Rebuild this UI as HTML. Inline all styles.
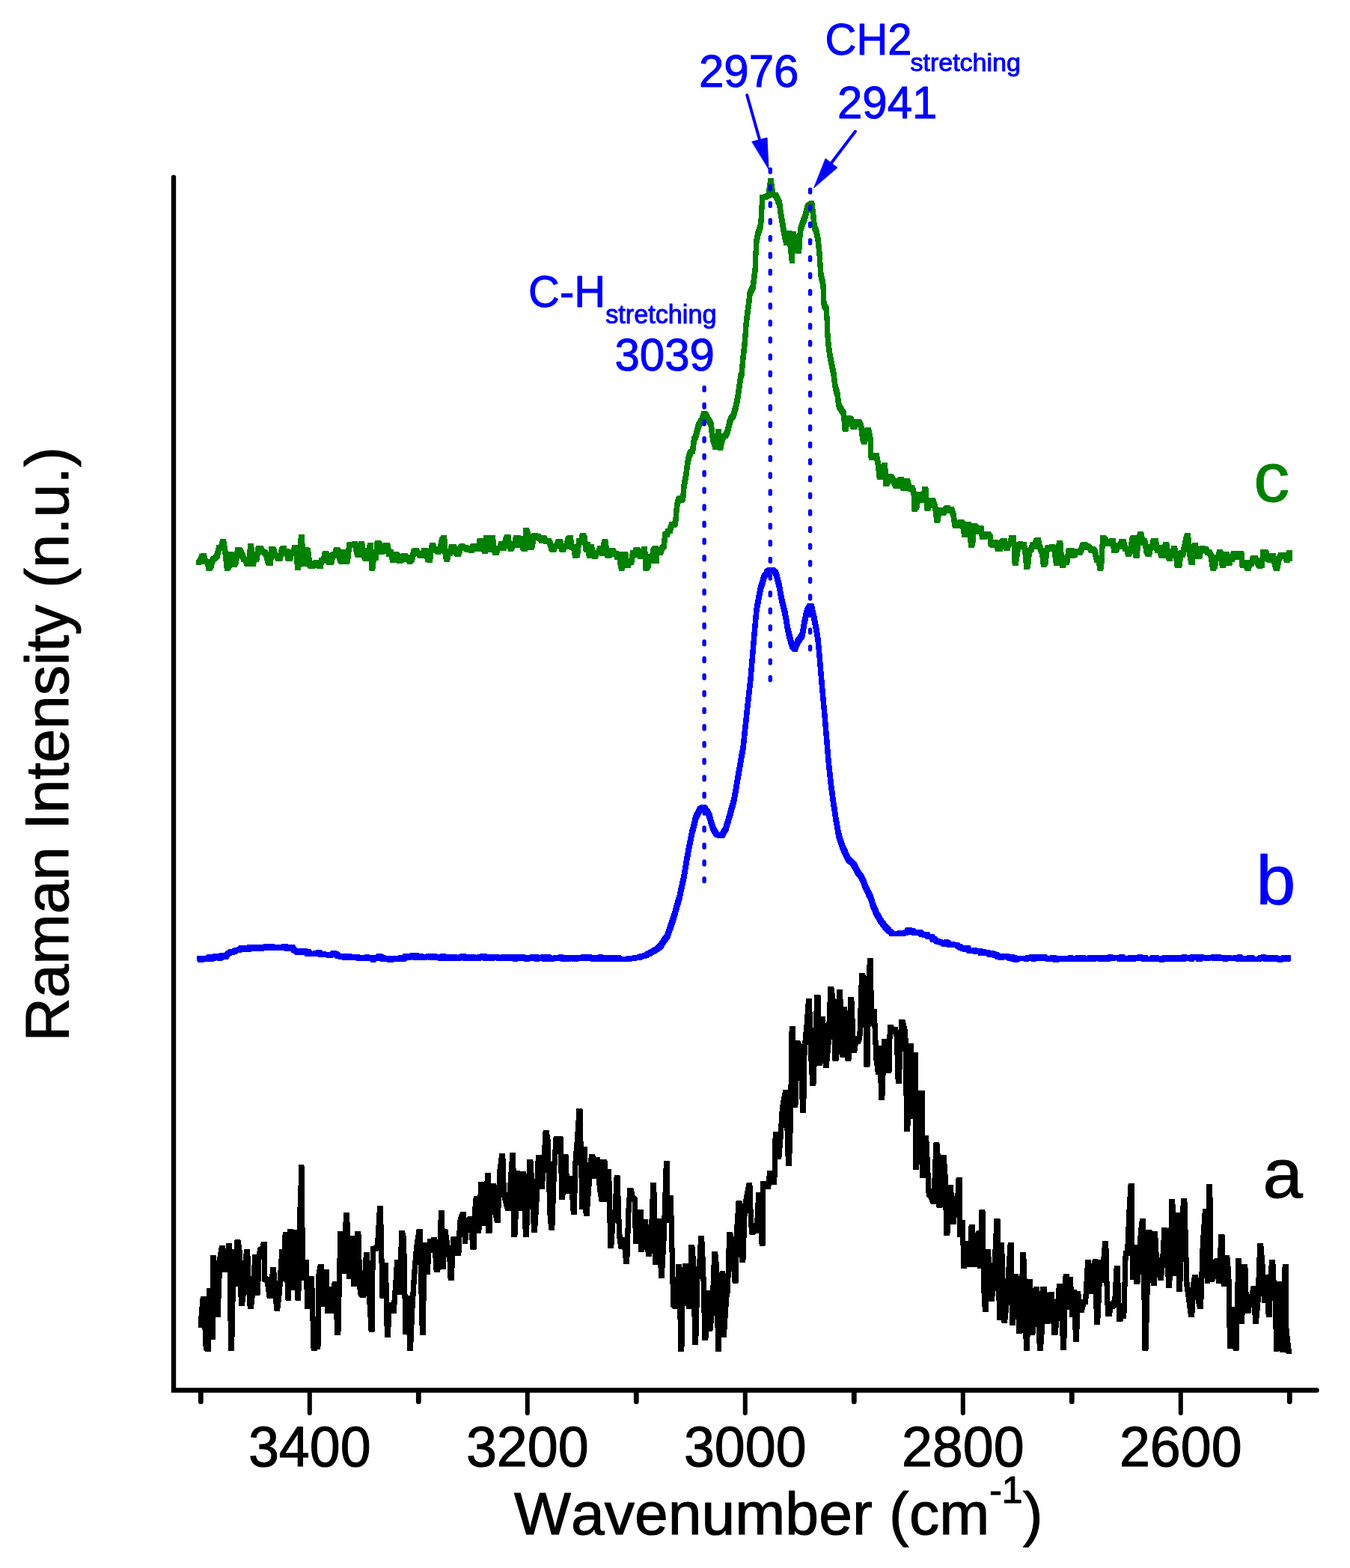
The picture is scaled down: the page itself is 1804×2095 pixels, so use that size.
<!DOCTYPE html>
<html lang="en"><head><meta charset="utf-8"><title>Raman spectra</title>
<style>html,body{margin:0;padding:0;background:#fff}svg{display:block}</style></head>
<body>
<svg width="1804" height="2095" viewBox="0 0 1804 2095">
<rect width="1804" height="2095" fill="#fff"/>
<g stroke="#000" fill="none" stroke-linecap="round" stroke-linejoin="miter">
<path d="M232,237 V1857.5 H1759.6" stroke-width="6.4"/>
<path d="M413.8,1860 V1888" stroke-width="6"/>
<path d="M704.8,1860 V1888" stroke-width="6"/>
<path d="M995.8,1860 V1888" stroke-width="6"/>
<path d="M1286.8,1860 V1888" stroke-width="6"/>
<path d="M1577.8,1860 V1888" stroke-width="6"/>
<path d="M268.3,1860 V1872.7" stroke-width="6.8"/>
<path d="M559.3,1860 V1872.7" stroke-width="6.8"/>
<path d="M850.3,1860 V1872.7" stroke-width="6.8"/>
<path d="M1141.3,1860 V1872.7" stroke-width="6.8"/>
<path d="M1432.3,1860 V1872.7" stroke-width="6.8"/>
<path d="M1723.3,1860 V1872.7" stroke-width="6.8"/>
</g>
<filter id="pen" filterUnits="userSpaceOnUse" x="0" y="0" width="1804" height="2095"><feMorphology operator="dilate" radius="3"/></filter>
<g fill="none" stroke-width="1" stroke-linejoin="round" stroke-linecap="round" shape-rendering="crispEdges" filter="url(#pen)">
<path d="M268.2,1770.4 L271.2,1735.4 L272.2,1735.4 L275.2,1799.8 L277.5,1802.6 L278.5,1802.6 L279.8,1724.1 L283.1,1786.5 L284.1,1786.5 L284.8,1680.7 L285.8,1680.7 L288.0,1750.4 L290.1,1756.4 L291.1,1756.4 L293.8,1683.7 L296.4,1667.4 L297.4,1667.4 L300.7,1696.1 L303.4,1689.0 L305.6,1664.6 L306.6,1664.6 L308.6,1801.9 L309.6,1801.9 L312.4,1672.3 L315.2,1715.7 L317.0,1659.7 L318.0,1659.7 L320.2,1674.4 L322.4,1741.7 L323.4,1741.7 L325.3,1726.4 L327.7,1689.8 L329.7,1672.6 L330.7,1672.6 L332.4,1718.5 L334.3,1745.9 L335.3,1745.9 L338.1,1721.4 L340.9,1679.6 L341.9,1679.6 L343.4,1727.0 L344.4,1727.0 L346.0,1680.0 L348.1,1669.5 L350.5,1669.9 L352.5,1662.3 L353.5,1662.3 L354.0,1708.7 L357.3,1710.4 L360.2,1731.2 L361.2,1731.2 L362.8,1730.4 L364.4,1696.8 L365.4,1696.8 L367.6,1720.1 L369.7,1748.0 L370.7,1748.0 L373.5,1723.8 L376.8,1672.3 L378.2,1708.7 L381.2,1649.9 L382.2,1649.9 L384.7,1734.0 L385.7,1734.0 L387.5,1645.7 L388.5,1645.7 L391.5,1720.6 L393.8,1646.4 L394.8,1646.4 L396.4,1662.5 L397.8,1734.0 L398.8,1734.0 L400.6,1628.0 L403.0,1558.8 L404.8,1707.3 L407.0,1701.1 L409.1,1686.3 L410.7,1745.9 L411.7,1745.9 L413.6,1719.5 L415.6,1708.7 L416.6,1708.7 L419.1,1801.9 L420.1,1801.9 L422.4,1780.2 L424.0,1799.1 L425.0,1799.1 L425.4,1708.7 L428.2,1692.6 L429.2,1692.6 L430.8,1742.4 L433.2,1722.9 L435.2,1699.6 L436.2,1699.6 L437.3,1751.5 L438.3,1751.5 L439.9,1722.7 L442.9,1751.5 L443.9,1751.5 L445.5,1735.9 L447.1,1715.7 L448.1,1715.7 L450.9,1780.9 L451.9,1780.9 L454.8,1648.5 L455.8,1648.5 L457.4,1681.2 L459.5,1698.9 L462.5,1623.5 L463.5,1623.5 L466.9,1705.9 L470.2,1654.8 L471.2,1654.8 L473.0,1715.7 L474.0,1715.7 L476.0,1664.4 L477.9,1648.5 L478.9,1648.5 L481.2,1725.5 L483.3,1729.7 L484.9,1730.5 L485.9,1730.5 L487.7,1705.4 L489.4,1676.5 L490.4,1676.5 L493.1,1724.1 L496.1,1776.0 L497.1,1776.0 L498.3,1668.1 L501.0,1668.7 L504.5,1666.4 L507.5,1614.5 L508.5,1614.5 L511.0,1731.1 L512.0,1731.1 L514.5,1690.5 L515.5,1690.5 L517.3,1783.6 L518.3,1783.6 L519.9,1752.0 L522.0,1743.0 L524.1,1750.1 L526.2,1751.4 L528.7,1718.0 L530.6,1686.9 L531.6,1686.9 L534.2,1726.9 L535.2,1726.9 L536.3,1647.7 L537.3,1647.7 L539.6,1656.1 L541.9,1779.4 L545.9,1734.6 L547.5,1801.9 L548.5,1801.9 L550.8,1748.2 L553.6,1703.8 L556.4,1670.1 L558.5,1656.1 L560.1,1645.6 L561.1,1645.6 L562.7,1712.8 L564.3,1780.8 L565.3,1780.8 L567.1,1663.8 L568.1,1663.8 L571.1,1699.6 L573.2,1667.6 L574.8,1658.9 L575.8,1658.9 L577.4,1670.1 L579.7,1656.8 L580.7,1656.8 L583.2,1696.8 L584.2,1696.8 L586.9,1687.7 L589.5,1620.7 L590.5,1620.7 L592.1,1692.6 L594.9,1644.9 L598.4,1670.1 L600.5,1671.1 L602.1,1707.3 L603.1,1707.3 L606.0,1655.7 L607.0,1655.7 L609.5,1667.8 L611.9,1674.3 L612.9,1674.3 L614.5,1634.4 L616.8,1627.0 L618.5,1622.8 L619.5,1622.8 L621.5,1658.9 L624.3,1630.9 L626.4,1633.0 L628.0,1628.8 L629.0,1628.8 L632.0,1666.4 L633.0,1666.4 L634.6,1620.2 L636.2,1601.7 L637.2,1601.7 L639.8,1644.9 L642.8,1582.8 L643.8,1582.8 L646.1,1635.1 L649.1,1613.9 L651.6,1570.6 L652.6,1570.6 L653.0,1644.9 L654.0,1644.9 L656.4,1585.4 L658.9,1584.6 L659.9,1584.6 L662.0,1618.1 L664.2,1630.2 L665.2,1630.2 L668.0,1565.2 L670.8,1544.7 L671.8,1544.7 L673.4,1594.5 L676.2,1605.8 L678.5,1614.1 L679.5,1614.1 L682.1,1582.2 L684.8,1543.6 L685.8,1543.6 L686.9,1649.8 L687.9,1649.8 L689.5,1615.3 L691.1,1567.8 L692.1,1567.8 L694.6,1614.1 L695.6,1614.1 L698.1,1568.5 L699.1,1568.5 L700.7,1591.9 L702.3,1649.8 L703.3,1649.8 L705.6,1599.9 L707.9,1552.7 L708.9,1552.7 L711.2,1588.5 L713.5,1643.1 L714.5,1643.1 L716.9,1606.1 L719.3,1546.2 L720.3,1546.2 L721.9,1557.5 L724.0,1586.1 L726.8,1555.0 L729.1,1513.7 L730.1,1513.7 L732.2,1526.4 L734.8,1618.3 L736.8,1640.1 L737.8,1640.1 L740.5,1562.5 L743.1,1521.7 L744.1,1521.7 L746.1,1525.1 L748.0,1521.7 L749.0,1521.7 L750.8,1599.4 L751.8,1599.4 L753.4,1560.8 L755.0,1545.9 L756.0,1545.9 L757.8,1591.0 L758.8,1591.0 L760.8,1585.5 L763.3,1574.9 L766.3,1619.1 L767.3,1619.1 L768.9,1555.3 L771.7,1520.5 L774.0,1484.5 L775.0,1484.5 L778.0,1612.7 L781.5,1535.7 L783.1,1621.9 L784.1,1621.9 L786.1,1594.2 L788.7,1558.3 L790.8,1545.5 L791.8,1545.5 L794.8,1572.1 L797.8,1549.0 L798.8,1549.0 L801.4,1586.4 L804.1,1602.9 L805.1,1602.9 L806.9,1552.5 L807.9,1552.5 L810.9,1602.9 L813.7,1565.1 L815.7,1664.6 L816.7,1664.6 L819.2,1627.8 L822.1,1618.4 L824.1,1573.9 L825.1,1573.9 L827.6,1649.3 L830.0,1665.3 L831.0,1665.3 L834.0,1656.2 L836.7,1685.6 L837.7,1685.6 L839.8,1620.0 L841.9,1590.7 L842.9,1590.7 L845.2,1600.5 L848.0,1602.9 L849.6,1658.3 L850.6,1658.3 L852.9,1629.2 L855.2,1619.8 L856.2,1619.8 L856.6,1669.5 L857.6,1669.5 L859.6,1656.9 L862.0,1631.7 L864.5,1650.7 L866.5,1675.8 L867.5,1675.8 L870.1,1656.7 L872.8,1583.7 L873.8,1583.7 L875.6,1686.3 L876.6,1686.3 L878.9,1653.5 L881.7,1631.7 L883.3,1704.5 L884.3,1704.5 L887.3,1649.5 L890.3,1554.6 L891.3,1554.6 L892.3,1631.0 L894.4,1607.0 L896.4,1600.6 L899.7,1742.6 L903.0,1745.8 L905.0,1735.6 L906.6,1692.7 L907.6,1692.7 L909.9,1802.2 L910.9,1802.2 L912.5,1716.3 L915.6,1691.9 L916.6,1691.9 L918.2,1704.4 L920.2,1745.8 L922.3,1733.9 L923.8,1666.5 L924.8,1666.5 L926.8,1690.6 L928.7,1793.2 L929.7,1793.2 L932.2,1699.9 L934.6,1693.6 L936.6,1654.2 L937.6,1654.2 L939.7,1696.1 L941.9,1787.5 L942.9,1787.5 L945.6,1727.8 L948.9,1775.4 L952.0,1746.3 L954.7,1675.2 L955.7,1675.2 L957.6,1695.6 L959.6,1802.2 L960.6,1802.2 L962.4,1721.2 L965.3,1701.5 L967.3,1783.6 L969.6,1748.8 L971.4,1724.3 L972.4,1724.3 L974.7,1649.2 L975.7,1649.2 L978.8,1663.8 L982.1,1711.2 L983.1,1711.2 L985.0,1639.6 L987.0,1607.9 L988.0,1607.9 L989.9,1666.6 L991.9,1683.3 L992.9,1683.3 L995.2,1616.2 L998.3,1597.8 L1000.9,1583.9 L1001.9,1583.9 L1003.5,1632.8 L1005.0,1646.3 L1006.0,1646.3 L1008.4,1641.2 L1011.3,1644.1 L1013.7,1596.5 L1016.2,1632.5 L1018.2,1661.1 L1019.2,1661.1 L1019.3,1581.1 L1020.3,1581.1 L1022.9,1581.2 L1025.5,1585.6 L1026.5,1585.6 L1028.8,1567.2 L1029.8,1567.2 L1031.8,1576.4 L1033.8,1579.9 L1034.8,1579.9 L1036.2,1515.5 L1037.2,1515.5 L1038.8,1522.0 L1040.8,1545.6 L1043.1,1518.2 L1045.4,1482.3 L1047.8,1469.0 L1049.6,1459.6 L1050.6,1459.6 L1053.4,1554.5 L1054.4,1554.5 L1056.3,1502.7 L1058.1,1374.6 L1059.1,1374.6 L1061.9,1476.5 L1062.9,1476.5 L1065.5,1393.5 L1069.4,1400.5 L1072.7,1483.4 L1073.7,1483.4 L1075.1,1402.0 L1078.0,1372.5 L1080.5,1337.2 L1081.5,1337.2 L1083.7,1409.9 L1085.9,1447.9 L1086.9,1447.9 L1089.5,1387.3 L1092.0,1332.1 L1093.0,1332.1 L1094.4,1420.1 L1095.4,1420.1 L1097.2,1397.2 L1099.5,1361.9 L1101.7,1396.1 L1103.3,1423.2 L1104.3,1423.2 L1107.1,1392.0 L1109.8,1321.3 L1110.8,1321.3 L1113.4,1339.9 L1116.0,1414.0 L1117.0,1414.0 L1119.2,1396.5 L1121.4,1325.2 L1122.4,1325.2 L1124.2,1363.4 L1126.0,1409.3 L1127.0,1409.3 L1128.8,1348.0 L1131.2,1399.6 L1133.0,1414.0 L1134.0,1414.0 L1136.8,1335.2 L1137.8,1335.2 L1140.7,1403.1 L1141.7,1403.1 L1143.8,1388.6 L1146.3,1391.8 L1148.9,1385.0 L1151.5,1303.3 L1152.5,1303.3 L1155.9,1312.4 L1158.0,1422.4 L1159.0,1422.4 L1160.7,1332.9 L1162.3,1283.0 L1163.3,1283.0 L1164.7,1368.0 L1168.2,1351.8 L1170.9,1413.0 L1173.6,1432.9 L1175.5,1400.5 L1177.8,1466.5 L1178.8,1466.5 L1181.6,1391.6 L1182.6,1391.6 L1184.8,1400.7 L1187.0,1430.2 L1188.0,1430.2 L1189.3,1372.3 L1190.3,1372.3 L1192.9,1377.6 L1196.0,1375.0 L1198.3,1383.5 L1200.2,1444.8 L1201.2,1444.8 L1203.0,1402.5 L1204.8,1365.0 L1205.8,1365.0 L1207.6,1372.1 L1209.9,1381.9 L1211.7,1508.9 L1212.7,1508.9 L1214.7,1460.5 L1216.7,1397.5 L1217.7,1397.5 L1219.2,1491.6 L1223.1,1409.7 L1223.8,1559.9 L1224.8,1559.9 L1226.7,1493.4 L1229.1,1526.7 L1231.0,1460.3 L1232.0,1460.3 L1232.6,1570.7 L1233.6,1570.7 L1235.4,1530.0 L1237.7,1520.9 L1241.2,1594.6 L1244.7,1599.0 L1246.9,1605.1 L1247.9,1605.1 L1250.9,1529.9 L1251.9,1529.9 L1253.4,1549.0 L1255.0,1610.3 L1256.0,1610.3 L1258.1,1592.4 L1260.2,1546.0 L1261.2,1546.0 L1263.0,1571.4 L1264.8,1647.6 L1265.8,1647.6 L1267.6,1620.8 L1269.4,1586.0 L1270.4,1586.0 L1273.4,1632.8 L1274.4,1632.8 L1276.5,1601.8 L1279.0,1617.0 L1281.1,1576.1 L1282.1,1576.1 L1282.6,1649.4 L1286.4,1633.7 L1287.7,1691.9 L1288.7,1691.9 L1290.4,1662.5 L1292.5,1661.5 L1295.5,1689.3 L1296.5,1689.3 L1298.1,1639.0 L1299.1,1639.0 L1301.2,1673.5 L1303.3,1689.3 L1304.3,1689.3 L1306.0,1652.4 L1308.2,1647.6 L1309.4,1691.1 L1310.4,1691.1 L1312.0,1619.9 L1313.0,1619.9 L1314.7,1718.7 L1316.4,1749.3 L1317.4,1749.3 L1320.3,1672.8 L1322.5,1699.8 L1324.2,1735.4 L1325.2,1735.4 L1327.3,1720.2 L1329.9,1674.4 L1332.0,1631.2 L1333.0,1631.2 L1335.5,1760.6 L1336.5,1760.6 L1338.6,1663.3 L1341.5,1764.0 L1342.5,1764.0 L1344.9,1743.1 L1347.8,1699.0 L1350.2,1663.0 L1351.2,1663.0 L1352.3,1767.5 L1353.3,1767.5 L1355.2,1748.2 L1357.7,1705.0 L1360.1,1728.5 L1362.0,1778.8 L1363.0,1778.8 L1364.9,1751.3 L1366.7,1676.9 L1367.7,1676.9 L1369.6,1726.8 L1371.4,1801.4 L1372.4,1801.4 L1375.4,1712.8 L1376.4,1712.8 L1378.9,1780.5 L1379.9,1780.5 L1382.0,1761.4 L1384.1,1722.7 L1385.1,1722.7 L1387.2,1734.5 L1389.3,1801.4 L1390.3,1801.4 L1392.2,1777.9 L1394.0,1722.0 L1395.0,1722.0 L1396.9,1735.6 L1398.9,1765.8 L1399.9,1765.8 L1402.0,1754.5 L1404.1,1729.0 L1405.1,1729.0 L1407.0,1750.9 L1409.0,1780.5 L1410.0,1780.5 L1412.7,1756.4 L1415.4,1718.9 L1416.4,1718.9 L1418.5,1731.4 L1420.6,1800.5 L1421.6,1800.5 L1424.1,1705.0 L1425.1,1705.0 L1426.8,1746.4 L1430.3,1709.2 L1432.9,1756.7 L1435.5,1727.0 L1437.5,1789.1 L1438.5,1789.1 L1440.5,1728.2 L1442.8,1745.3 L1445.0,1750.6 L1447.8,1739.4 L1450.6,1739.4 L1453.6,1686.8 L1454.6,1686.8 L1456.2,1715.8 L1458.3,1725.4 L1460.8,1696.2 L1463.3,1685.4 L1465.6,1766.7 L1466.6,1766.7 L1468.2,1733.9 L1470.3,1686.8 L1473.1,1710.6 L1475.2,1678.9 L1476.8,1661.6 L1477.8,1661.6 L1479.4,1731.9 L1481.0,1755.5 L1482.0,1755.5 L1484.3,1745.0 L1487.1,1745.0 L1489.9,1737.4 L1492.2,1694.5 L1493.2,1694.5 L1495.7,1762.5 L1496.7,1762.5 L1499.0,1756.7 L1501.8,1759.0 L1504.2,1674.9 L1506.6,1674.9 L1509.1,1617.5 L1511.1,1584.5 L1512.1,1584.5 L1513.4,1706.4 L1517.2,1666.5 L1518.8,1712.8 L1519.8,1712.8 L1521.9,1690.3 L1524.4,1647.5 L1526.5,1631.5 L1527.5,1631.5 L1530.0,1801.0 L1531.0,1801.0 L1533.0,1727.8 L1534.9,1646.5 L1535.9,1646.5 L1538.6,1653.3 L1541.2,1714.9 L1542.2,1714.9 L1542.6,1648.6 L1543.6,1648.6 L1545.7,1689.6 L1548.3,1683.8 L1550.3,1707.8 L1551.3,1707.8 L1553.6,1684.9 L1555.9,1643.7 L1556.9,1643.7 L1559.2,1648.8 L1561.5,1717.7 L1562.5,1717.7 L1564.1,1687.0 L1565.8,1605.5 L1566.8,1605.5 L1569.8,1701.5 L1573.3,1623.8 L1575.6,1722.6 L1576.6,1722.6 L1579.2,1635.1 L1581.9,1604.6 L1582.9,1604.6 L1585.9,1715.5 L1589.0,1737.3 L1591.7,1756.9 L1592.7,1756.9 L1594.6,1718.7 L1596.6,1706.4 L1597.6,1706.4 L1600.6,1732.5 L1603.6,1745.7 L1604.6,1745.7 L1607.2,1665.3 L1610.4,1618.9 L1613.2,1711.3 L1615.8,1585.6 L1616.8,1585.6 L1618.3,1709.2 L1619.3,1709.2 L1621.4,1705.4 L1623.9,1688.1 L1626.5,1684.7 L1628.6,1712.0 L1632.0,1652.5 L1633.0,1652.5 L1635.1,1715.6 L1636.1,1715.6 L1637.7,1703.8 L1639.8,1680.5 L1641.9,1705.2 L1643.5,1798.9 L1644.5,1798.9 L1646.8,1749.2 L1649.3,1788.8 L1651.2,1801.0 L1652.2,1801.0 L1654.7,1684.7 L1655.7,1684.7 L1658.7,1765.3 L1659.7,1765.3 L1661.3,1709.1 L1662.9,1692.7 L1663.9,1692.7 L1665.6,1748.1 L1667.2,1751.0 L1668.2,1751.0 L1669.8,1738.0 L1671.9,1738.0 L1675.2,1721.4 L1676.2,1721.4 L1677.3,1765.3 L1678.3,1765.3 L1681.0,1737.6 L1683.7,1664.9 L1684.7,1664.9 L1686.8,1688.6 L1689.5,1737.5 L1691.6,1706.2 L1693.7,1734.0 L1695.3,1756.8 L1696.3,1756.8 L1698.1,1702.5 L1699.8,1686.9 L1700.8,1686.9 L1702.3,1719.5 L1704.3,1720.0 L1705.4,1802.0 L1706.4,1802.0 L1708.0,1726.8 L1709.7,1715.5 L1710.7,1715.5 L1713.4,1803.6 L1714.4,1803.6 L1717.1,1692.7 L1718.1,1692.7 L1719.0,1778.4 L1721.9,1805.1 L1722.9,1805.1" stroke="#000"/>
<path d="M266.5,1280.4 L268.1,1282.7 L269.7,1282.4 L271.3,1280.6 L272.9,1281.4 L274.5,1281.2 L276.1,1281.6 L277.7,1281.8 L279.3,1279.1 L280.9,1278.5 L282.5,1281.0 L284.1,1279.3 L285.7,1280.3 L287.3,1277.5 L288.9,1278.9 L290.5,1279.7 L292.1,1277.8 L293.7,1280.1 L295.3,1279.8 L296.9,1276.7 L298.5,1276.5 L300.1,1278.1 L301.7,1278.6 L303.3,1275.6 L304.9,1274.0 L306.5,1273.9 L308.1,1271.9 L309.7,1272.0 L311.3,1272.0 L312.9,1271.6 L314.5,1270.1 L316.1,1269.5 L317.7,1269.0 L319.3,1269.2 L320.9,1268.1 L322.5,1266.7 L324.1,1268.9 L325.7,1267.8 L327.3,1268.0 L328.9,1266.3 L330.5,1268.9 L332.1,1268.3 L333.7,1265.6 L335.3,1266.2 L336.9,1267.3 L338.5,1267.1 L340.1,1267.8 L341.7,1265.9 L343.3,1267.2 L344.9,1266.6 L346.5,1265.3 L348.1,1266.2 L349.7,1267.1 L351.3,1266.9 L352.9,1265.7 L354.5,1265.9 L356.1,1263.9 L357.7,1264.6 L359.3,1266.4 L360.9,1265.0 L362.5,1264.3 L364.1,1265.6 L365.7,1266.2 L367.3,1266.2 L368.9,1265.3 L370.5,1265.6 L372.1,1265.9 L373.7,1266.9 L375.3,1266.1 L376.9,1265.8 L378.5,1266.2 L380.1,1264.6 L381.7,1264.6 L383.3,1266.9 L384.9,1267.8 L386.5,1266.5 L388.1,1265.8 L389.7,1265.1 L391.3,1266.3 L392.9,1269.5 L394.5,1270.4 L396.1,1271.1 L397.7,1272.3 L399.3,1270.1 L400.9,1270.9 L402.5,1272.2 L404.1,1270.8 L405.7,1270.3 L407.3,1270.1 L408.9,1271.8 L410.5,1274.0 L412.1,1271.3 L413.7,1274.0 L415.3,1274.2 L416.9,1274.6 L418.5,1274.2 L420.1,1274.5 L421.7,1273.6 L423.3,1273.9 L424.9,1273.5 L426.5,1272.4 L428.1,1275.3 L429.7,1274.7 L431.3,1274.0 L432.9,1275.5 L434.5,1276.0 L436.1,1275.6 L437.7,1275.5 L439.3,1276.0 L440.9,1276.1 L442.5,1276.0 L444.1,1275.3 L445.7,1273.7 L447.3,1274.3 L448.9,1274.1 L450.5,1276.0 L452.1,1277.4 L453.7,1277.6 L455.3,1278.0 L456.9,1278.5 L458.5,1277.1 L460.1,1279.3 L461.7,1278.9 L463.3,1277.1 L464.9,1277.0 L466.5,1277.2 L468.1,1279.9 L469.7,1278.4 L471.3,1278.1 L472.9,1280.0 L474.5,1279.3 L476.1,1278.5 L477.7,1279.0 L479.3,1280.3 L480.9,1279.1 L482.5,1279.5 L484.1,1281.0 L485.7,1280.2 L487.3,1279.8 L488.9,1280.4 L490.5,1278.9 L492.1,1280.2 L493.7,1280.4 L495.3,1279.6 L496.9,1279.4 L498.5,1282.1 L500.1,1280.5 L501.7,1279.0 L503.3,1279.8 L504.9,1280.1 L506.5,1277.4 L508.1,1277.9 L509.7,1278.8 L511.3,1281.2 L512.9,1279.7 L514.5,1281.5 L516.1,1281.5 L517.7,1281.1 L519.3,1280.0 L520.9,1282.6 L522.5,1282.0 L524.1,1281.1 L525.7,1280.1 L527.3,1281.6 L528.9,1280.8 L530.5,1281.4 L532.1,1280.6 L533.7,1281.7 L535.3,1279.8 L536.9,1280.1 L538.5,1281.6 L540.1,1280.4 L541.7,1277.7 L543.3,1279.1 L544.9,1277.3 L546.5,1279.4 L548.1,1278.7 L549.7,1277.6 L551.3,1277.1 L552.9,1276.3 L554.5,1279.3 L556.1,1276.5 L557.7,1279.2 L559.3,1279.8 L560.9,1278.5 L562.5,1277.2 L564.1,1279.6 L565.7,1280.0 L567.3,1279.1 L568.9,1278.5 L570.5,1278.1 L572.1,1278.0 L573.7,1277.6 L575.3,1279.3 L576.9,1278.5 L578.5,1277.7 L580.1,1277.5 L581.7,1279.4 L583.3,1278.2 L584.9,1279.0 L586.5,1278.4 L588.1,1280.3 L589.7,1280.4 L591.3,1277.4 L592.9,1278.0 L594.5,1278.5 L596.1,1280.7 L597.7,1280.0 L599.3,1278.5 L600.9,1278.1 L602.5,1279.7 L604.1,1280.3 L605.7,1280.6 L607.3,1278.6 L608.9,1280.4 L610.5,1279.8 L612.1,1279.1 L613.7,1280.8 L615.3,1278.3 L616.9,1279.9 L618.5,1277.8 L620.1,1278.1 L621.7,1280.6 L623.3,1278.2 L624.9,1280.1 L626.5,1279.6 L628.1,1280.4 L629.7,1278.8 L631.3,1278.7 L632.9,1278.6 L634.5,1280.5 L636.1,1279.6 L637.7,1280.9 L639.3,1280.6 L640.9,1278.1 L642.5,1279.5 L644.1,1278.0 L645.7,1277.8 L647.3,1277.9 L648.9,1280.6 L650.5,1280.4 L652.1,1280.5 L653.7,1278.9 L655.3,1279.8 L656.9,1280.4 L658.5,1279.0 L660.1,1279.7 L661.7,1278.5 L663.3,1278.1 L664.9,1278.7 L666.5,1280.8 L668.1,1279.7 L669.7,1281.0 L671.3,1279.4 L672.9,1278.8 L674.5,1280.6 L676.1,1280.7 L677.7,1278.0 L679.3,1280.2 L680.9,1278.3 L682.5,1278.3 L684.1,1281.0 L685.7,1278.1 L687.3,1278.8 L688.9,1281.4 L690.5,1279.5 L692.1,1278.4 L693.7,1278.6 L695.3,1278.9 L696.9,1280.6 L698.5,1278.4 L700.1,1281.2 L701.7,1279.4 L703.3,1281.4 L704.9,1281.2 L706.5,1279.2 L708.1,1279.0 L709.7,1279.8 L711.3,1278.6 L712.9,1280.4 L714.5,1278.4 L716.1,1278.3 L717.7,1281.6 L719.3,1279.3 L720.9,1280.3 L722.5,1279.8 L724.1,1279.4 L725.7,1278.5 L727.3,1281.4 L728.9,1281.6 L730.5,1281.6 L732.1,1278.7 L733.7,1279.1 L735.3,1280.5 L736.9,1281.7 L738.5,1280.2 L740.1,1280.7 L741.7,1280.6 L743.3,1279.3 L744.9,1280.3 L746.5,1279.5 L748.1,1279.3 L749.7,1278.7 L751.3,1279.4 L752.9,1281.8 L754.5,1280.0 L756.1,1280.7 L757.7,1280.7 L759.3,1281.7 L760.9,1279.8 L762.5,1279.5 L764.1,1279.6 L765.7,1279.6 L767.3,1281.4 L768.9,1281.6 L770.5,1279.6 L772.1,1279.7 L773.7,1280.4 L775.3,1280.5 L776.9,1280.6 L778.5,1279.4 L780.1,1278.6 L781.7,1279.4 L783.3,1278.8 L784.9,1280.5 L786.5,1278.8 L788.1,1278.9 L789.7,1280.8 L791.3,1279.6 L792.9,1281.3 L794.5,1280.3 L796.1,1281.6 L797.7,1279.2 L799.3,1280.4 L800.9,1281.4 L802.5,1278.9 L804.1,1281.9 L805.7,1279.3 L807.3,1281.3 L808.9,1282.1 L810.5,1281.5 L812.1,1279.8 L813.7,1279.1 L815.3,1280.5 L816.9,1281.9 L818.5,1279.7 L820.1,1281.8 L821.7,1279.2 L823.3,1281.9 L824.9,1278.9 L826.5,1279.9 L828.1,1281.9 L829.7,1281.5 L838.1,1281.9 L839.7,1281.7 L841.3,1280.4 L842.9,1280.2 L844.5,1280.9 L846.1,1280.6 L847.7,1280.3 L849.3,1279.6 L850.9,1279.8 L852.5,1279.6 L854.1,1279.3 L855.7,1278.3 L857.3,1278.0 L858.9,1277.3 L860.5,1277.1 L862.1,1276.8 L863.7,1276.1 L865.3,1275.0 L866.9,1274.3 L868.5,1273.5 L870.1,1272.6 L871.7,1271.6 L873.3,1271.0 L874.9,1269.6 L876.5,1268.6 L878.1,1268.1 L879.7,1266.5 L881.3,1265.4 L882.9,1263.7 L884.5,1260.9 L886.1,1258.8 L887.7,1256.1 L889.3,1254.0 L890.9,1252.1 L892.5,1248.8 L894.1,1243.4 L895.7,1239.5 L897.3,1234.6 L898.9,1229.8 L900.5,1225.2 L902.1,1219.5 L903.7,1213.8 L905.3,1207.6 L906.9,1202.7 L908.5,1196.9 L910.1,1188.6 L911.7,1181.9 L913.3,1174.6 L914.9,1166.0 L916.5,1156.4 L918.1,1146.7 L919.7,1138.0 L921.3,1129.5 L922.9,1121.9 L924.5,1113.3 L926.1,1107.5 L927.7,1101.1 L929.3,1094.2 L930.9,1089.8 L932.5,1087.1 L934.1,1083.8 L935.7,1080.9 L937.3,1079.8 L938.9,1079.1 L940.5,1078.8 L942.1,1079.9 L943.7,1083.2 L945.3,1084.9 L946.9,1088.0 L948.5,1091.5 L950.1,1097.9 L951.7,1103.3 L953.3,1108.1 L954.9,1110.5 L956.5,1113.0 L958.1,1115.4 L959.7,1115.8 L961.3,1116.0 L962.9,1116.8 L964.5,1116.5 L966.1,1113.7 L967.7,1110.6 L969.3,1109.0 L970.9,1103.7 L972.5,1098.7 L974.1,1092.7 L975.7,1087.8 L977.3,1081.4 L978.9,1076.5 L980.5,1070.5 L982.1,1061.8 L983.7,1053.2 L985.3,1042.9 L986.9,1034.1 L988.5,1025.4 L990.1,1015.6 L991.7,1006.5 L993.3,997.1 L994.9,981.5 L996.5,966.8 L998.1,951.1 L999.7,937.1 L1001.3,922.5 L1002.9,908.7 L1004.5,888.8 L1006.1,870.4 L1007.7,850.2 L1009.3,832.6 L1010.9,815.5 L1012.5,806.4 L1014.1,797.6 L1015.7,788.9 L1017.3,783.3 L1018.9,778.3 L1020.5,772.3 L1022.1,769.1 L1023.7,767.5 L1025.3,763.8 L1026.9,762.1 L1028.5,761.9 L1030.1,761.7 L1031.7,761.6 L1033.3,762.3 L1034.9,763.9 L1036.5,764.9 L1038.1,770.4 L1039.7,776.7 L1041.3,783.4 L1042.9,792.1 L1044.5,800.4 L1046.1,807.5 L1047.7,813.8 L1049.3,820.7 L1050.9,829.9 L1052.5,839.9 L1054.1,846.9 L1055.7,853.2 L1057.3,859.5 L1058.9,863.3 L1060.5,865.7 L1062.1,867.3 L1063.7,863.0 L1065.3,859.2 L1066.9,855.3 L1068.5,854.3 L1070.1,851.4 L1071.7,849.9 L1073.3,841.4 L1074.9,831.7 L1076.5,824.4 L1078.1,817.9 L1079.7,813.2 L1081.3,811.4 L1082.9,809.7 L1084.5,810.6 L1086.1,818.1 L1087.7,824.8 L1089.3,833.4 L1090.9,841.8 L1092.5,850.3 L1094.1,865.9 L1095.7,884.0 L1097.3,903.1 L1098.9,921.7 L1100.5,939.1 L1102.1,957.2 L1103.7,976.3 L1105.3,994.9 L1106.9,1014.4 L1108.5,1030.7 L1110.1,1045.3 L1111.7,1058.1 L1113.3,1070.1 L1114.9,1080.4 L1116.5,1091.7 L1118.1,1100.8 L1119.7,1110.4 L1121.3,1117.7 L1122.9,1122.6 L1124.5,1127.4 L1126.1,1132.4 L1127.7,1135.8 L1129.3,1139.1 L1130.9,1143.0 L1132.5,1146.0 L1134.1,1148.7 L1135.7,1150.4 L1137.3,1151.7 L1138.9,1152.9 L1140.5,1154.6 L1142.1,1157.6 L1143.7,1160.2 L1145.3,1163.8 L1146.9,1166.6 L1148.5,1168.2 L1150.1,1170.1 L1151.7,1173.0 L1153.3,1176.5 L1154.9,1180.7 L1156.5,1185.2 L1158.1,1188.3 L1159.7,1191.1 L1161.3,1195.2 L1162.9,1198.1 L1164.5,1202.5 L1166.1,1208.1 L1167.7,1212.2 L1169.3,1215.8 L1170.9,1219.6 L1172.5,1222.6 L1174.1,1225.0 L1175.7,1228.7 L1177.3,1230.9 L1178.9,1233.1 L1180.5,1234.9 L1182.1,1237.5 L1183.7,1239.0 L1185.3,1240.8 L1186.9,1242.4 L1188.5,1244.6 L1190.1,1245.0 L1191.7,1247.3 L1205.2,1246.9 L1206.8,1247.3 L1208.4,1246.1 L1210.0,1246.2 L1211.6,1245.6 L1213.2,1243.1 L1214.8,1242.2 L1216.4,1245.1 L1218.0,1243.5 L1219.6,1243.7 L1221.2,1246.7 L1222.8,1245.3 L1224.4,1246.9 L1226.0,1246.0 L1227.6,1246.9 L1229.2,1245.6 L1230.8,1247.6 L1232.4,1248.7 L1234.0,1248.0 L1235.6,1249.5 L1237.2,1250.0 L1238.8,1248.7 L1240.4,1251.8 L1242.0,1252.0 L1243.6,1251.7 L1245.2,1251.6 L1246.8,1255.2 L1248.4,1254.6 L1250.0,1256.2 L1251.6,1257.5 L1253.2,1257.7 L1254.8,1259.1 L1256.4,1258.1 L1258.0,1260.1 L1259.6,1259.2 L1261.2,1261.2 L1262.8,1261.3 L1264.4,1259.0 L1266.0,1259.5 L1267.6,1260.1 L1269.2,1263.0 L1270.8,1261.5 L1272.4,1262.5 L1274.0,1261.8 L1275.6,1262.8 L1277.2,1262.7 L1278.8,1262.9 L1280.4,1264.1 L1282.0,1264.6 L1283.6,1266.2 L1285.2,1266.0 L1286.8,1267.4 L1288.4,1267.7 L1290.0,1268.7 L1291.6,1268.1 L1293.2,1266.9 L1294.8,1269.8 L1296.4,1270.7 L1298.0,1271.0 L1299.6,1270.2 L1301.2,1271.0 L1302.8,1269.6 L1304.4,1272.0 L1306.0,1271.4 L1307.6,1270.7 L1309.2,1270.3 L1310.8,1273.2 L1312.4,1274.0 L1314.0,1271.2 L1315.6,1274.0 L1317.2,1272.9 L1318.8,1272.3 L1320.4,1273.1 L1322.0,1275.1 L1323.6,1275.8 L1325.2,1273.4 L1326.8,1275.7 L1328.4,1274.1 L1330.0,1276.8 L1331.6,1275.9 L1333.2,1278.1 L1334.8,1278.8 L1336.4,1277.6 L1338.0,1279.7 L1339.6,1277.6 L1341.2,1277.1 L1342.8,1279.1 L1344.4,1277.4 L1346.0,1278.2 L1347.6,1279.2 L1349.2,1280.2 L1350.8,1278.9 L1352.4,1278.7 L1354.0,1281.8 L1355.6,1280.0 L1357.2,1282.2 L1358.8,1281.9 L1360.4,1280.1 L1362.0,1280.3 L1363.6,1280.4 L1365.2,1280.8 L1366.8,1280.6 L1368.4,1280.4 L1370.0,1280.5 L1371.6,1281.6 L1373.2,1280.0 L1374.8,1279.7 L1376.4,1280.6 L1378.0,1278.9 L1379.6,1279.1 L1381.2,1281.3 L1382.8,1279.8 L1384.4,1280.0 L1386.0,1278.3 L1387.6,1279.7 L1389.2,1280.3 L1390.8,1278.5 L1392.4,1280.6 L1394.0,1280.8 L1395.6,1278.9 L1397.2,1280.9 L1398.8,1280.4 L1400.4,1281.3 L1402.0,1280.2 L1403.6,1281.5 L1405.2,1281.7 L1406.8,1279.3 L1408.4,1279.6 L1410.0,1281.7 L1411.6,1282.8 L1413.2,1280.4 L1414.8,1281.2 L1416.4,1281.7 L1418.0,1280.7 L1419.6,1280.9 L1421.2,1280.6 L1422.8,1280.8 L1424.4,1281.5 L1426.0,1280.5 L1427.6,1280.7 L1429.2,1282.0 L1430.8,1279.5 L1432.4,1281.3 L1434.0,1281.8 L1435.6,1280.3 L1437.2,1280.0 L1438.8,1281.9 L1440.4,1280.0 L1442.0,1279.8 L1443.6,1280.6 L1445.2,1281.5 L1446.8,1279.4 L1448.4,1280.1 L1450.0,1280.1 L1451.6,1281.8 L1453.2,1280.4 L1454.8,1281.8 L1456.4,1279.4 L1458.0,1280.0 L1459.6,1281.0 L1461.2,1281.8 L1462.8,1280.2 L1464.4,1279.4 L1466.0,1279.1 L1467.6,1280.4 L1469.2,1279.2 L1470.8,1281.3 L1472.4,1281.4 L1474.0,1279.1 L1475.6,1279.4 L1477.2,1281.2 L1478.8,1280.6 L1480.4,1281.1 L1482.0,1279.5 L1483.6,1278.8 L1485.2,1279.3 L1486.8,1281.0 L1488.4,1279.3 L1490.0,1279.6 L1491.6,1279.8 L1493.2,1279.8 L1494.8,1279.8 L1496.4,1281.6 L1498.0,1279.0 L1499.6,1278.5 L1501.2,1281.7 L1502.8,1281.5 L1504.4,1281.9 L1506.0,1280.0 L1507.6,1281.8 L1509.2,1281.7 L1510.8,1279.3 L1512.4,1281.1 L1514.0,1281.5 L1515.6,1280.9 L1517.2,1280.4 L1518.8,1279.7 L1520.4,1279.9 L1522.0,1279.5 L1523.6,1279.0 L1525.2,1280.7 L1526.8,1279.7 L1528.4,1281.5 L1530.0,1278.9 L1531.6,1281.9 L1533.2,1281.2 L1534.8,1282.0 L1536.4,1281.9 L1538.0,1281.9 L1539.6,1280.9 L1541.2,1279.0 L1542.8,1281.5 L1544.4,1279.5 L1546.0,1280.0 L1547.6,1281.2 L1549.2,1280.8 L1550.8,1280.4 L1552.4,1282.2 L1554.0,1281.0 L1555.6,1280.1 L1557.2,1279.8 L1558.8,1281.8 L1560.4,1280.5 L1562.0,1281.5 L1563.6,1280.1 L1565.2,1279.5 L1566.8,1280.6 L1568.4,1281.6 L1570.0,1279.4 L1571.6,1281.5 L1573.2,1281.9 L1574.8,1281.5 L1576.4,1281.5 L1578.0,1278.7 L1579.6,1280.8 L1581.2,1281.6 L1582.8,1278.8 L1584.4,1279.6 L1586.0,1279.5 L1587.6,1280.4 L1589.2,1280.0 L1590.8,1280.2 L1592.4,1281.2 L1594.0,1278.5 L1595.6,1278.7 L1597.2,1278.9 L1598.8,1278.9 L1600.4,1278.7 L1602.0,1281.8 L1603.6,1281.3 L1605.2,1278.7 L1606.8,1280.1 L1608.4,1279.5 L1610.0,1279.4 L1611.6,1279.6 L1613.2,1280.5 L1614.8,1280.3 L1616.4,1279.5 L1618.0,1279.0 L1619.6,1279.4 L1621.2,1278.8 L1622.8,1280.2 L1624.4,1280.8 L1626.0,1279.7 L1627.6,1278.7 L1629.2,1279.0 L1630.8,1279.7 L1632.4,1280.5 L1634.0,1281.1 L1635.6,1279.8 L1637.2,1281.2 L1638.8,1280.6 L1640.4,1280.0 L1642.0,1279.8 L1643.6,1280.3 L1645.2,1281.0 L1646.8,1280.0 L1648.4,1281.0 L1650.0,1280.2 L1651.6,1279.5 L1653.2,1280.5 L1654.8,1281.1 L1656.4,1279.0 L1658.0,1280.2 L1659.6,1280.2 L1661.2,1281.7 L1662.8,1282.0 L1664.4,1280.1 L1666.0,1281.9 L1667.6,1281.5 L1669.2,1279.7 L1670.8,1280.4 L1672.4,1279.3 L1674.0,1281.7 L1675.6,1281.2 L1677.2,1281.9 L1678.8,1281.6 L1680.4,1281.2 L1682.0,1281.5 L1683.6,1280.9 L1685.2,1279.4 L1686.8,1281.0 L1688.4,1279.0 L1690.0,1279.5 L1691.6,1281.6 L1693.2,1279.2 L1694.8,1279.3 L1696.4,1279.3 L1698.0,1282.0 L1699.6,1279.6 L1701.2,1279.1 L1702.8,1281.9 L1704.4,1279.4 L1706.0,1281.9 L1707.6,1281.3 L1709.2,1281.8 L1710.8,1282.2 L1712.4,1281.0 L1714.0,1281.7 L1715.6,1279.1 L1717.2,1281.6 L1718.8,1280.7 L1720.4,1281.4 L1722.0,1279.4" stroke="#00f"/>
<path d="M265.2,751.7 L267.5,750.1 L269.7,743.7 L271.4,742.7 L272.4,742.7 L274.5,750.9 L277.0,750.0 L279.1,759.0 L280.1,759.0 L281.7,757.6 L283.8,749.2 L285.4,746.3 L286.4,746.3 L288.1,745.0 L290.4,741.9 L292.9,731.1 L295.5,732.5 L297.6,723.9 L298.6,723.9 L300.9,736.5 L303.3,759.0 L304.3,759.0 L306.1,755.4 L307.8,740.9 L308.8,740.9 L310.5,745.1 L312.3,754.5 L313.3,754.5 L315.5,749.9 L317.7,734.6 L318.7,734.6 L320.9,735.9 L323.5,741.0 L325.9,748.0 L328.3,747.9 L330.2,753.6 L331.2,753.6 L333.0,747.0 L334.7,729.8 L335.7,729.8 L337.4,753.6 L338.4,753.6 L340.4,742.5 L342.8,747.2 L345.3,732.4 L347.3,732.3 L348.3,732.3 L350.4,737.2 L353.1,737.4 L355.7,740.9 L358.3,751.4 L360.4,752.7 L361.4,752.7 L362.9,733.7 L363.9,733.7 L365.5,734.2 L367.7,742.0 L369.8,742.0 L371.5,746.5 L372.5,746.5 L374.2,745.6 L376.5,734.8 L378.3,732.8 L379.3,732.8 L380.9,739.5 L383.0,735.9 L385.1,746.3 L386.7,746.5 L387.7,746.5 L389.6,737.3 L392.0,739.1 L393.9,731.6 L394.9,731.6 L396.2,738.1 L397.5,758.7 L398.5,758.7 L400.4,745.6 L402.3,717.6 L403.3,717.6 L405.6,753.6 L406.6,753.6 L408.2,734.6 L409.2,734.6 L411.4,735.7 L414.1,755.6 L416.3,756.9 L417.3,756.9 L419.5,753.2 L422.2,751.7 L424.9,755.2 L427.1,756.3 L428.1,756.3 L430.0,748.2 L432.4,749.9 L434.3,739.1 L435.3,739.1 L437.4,743.2 L439.6,751.8 L440.6,751.8 L442.6,751.3 L445.1,740.2 L447.5,742.0 L449.5,734.1 L450.5,734.1 L452.1,736.7 L454.2,747.3 L455.8,750.0 L456.8,750.0 L458.5,737.3 L459.5,737.3 L460.8,741.2 L462.1,750.9 L463.1,750.9 L464.6,748.1 L466.7,728.7 L468.3,727.4 L469.3,727.4 L471.5,728.4 L473.7,726.0 L474.7,726.0 L476.5,737.1 L478.2,741.1 L479.2,741.1 L480.9,729.7 L482.7,726.5 L483.7,726.5 L485.9,741.9 L488.1,746.5 L489.1,746.5 L490.7,735.2 L492.8,738.7 L494.3,728.7 L495.3,728.7 L496.7,759.0 L497.7,759.0 L499.7,743.7 L502.2,745.8 L504.2,725.7 L505.2,725.7 L507.4,728.1 L509.6,737.5 L510.6,737.5 L512.8,735.9 L515.0,728.7 L516.0,728.7 L517.8,728.7 L520.1,741.2 L522.5,737.8 L524.8,748.2 L526.6,748.2 L527.6,748.2 L528.4,740.9 L529.4,740.9 L531.6,742.9 L533.8,749.1 L534.8,749.1 L536.4,748.5 L538.5,743.8 L540.1,742.7 L541.1,742.7 L543.0,747.8 L545.4,744.6 L547.3,750.0 L548.3,750.0 L550.4,746.8 L553.1,736.6 L555.3,735.5 L556.3,735.5 L557.9,739.7 L560.0,739.2 L561.6,742.9 L562.6,742.9 L564.8,740.7 L567.0,735.5 L568.0,735.5 L569.7,736.6 L571.8,747.5 L573.5,748.2 L574.5,748.2 L576.0,736.5 L577.4,728.7 L578.4,728.7 L580.3,733.8 L582.7,733.5 L585.1,737.4 L587.8,735.7 L590.5,722.1 L592.7,718.8 L593.7,718.8 L595.2,740.7 L596.6,747.0 L597.6,747.0 L599.4,736.6 L601.7,739.2 L603.4,730.5 L604.4,730.5 L606.6,730.7 L609.3,738.5 L611.5,740.2 L612.5,740.2 L614.7,733.9 L616.9,729.8 L617.9,729.8 L619.9,733.1 L622.4,731.2 L624.9,734.6 L627.4,732.8 L629.5,735.7 L630.5,735.7 L632.1,729.2 L633.1,729.2 L634.7,733.0 L636.8,731.1 L638.4,733.9 L639.4,733.9 L641.1,722.6 L642.1,722.6 L643.7,728.6 L645.8,728.1 L647.4,736.6 L648.4,736.6 L649.2,718.5 L650.2,718.5 L651.5,729.2 L652.8,734.8 L653.8,734.8 L655.5,721.9 L657.3,718.5 L658.3,718.5 L660.2,734.4 L662.1,738.9 L663.1,738.9 L665.2,732.7 L667.7,733.0 L669.8,726.5 L670.8,726.5 L672.5,732.1 L673.5,732.1 L675.7,721.9 L677.9,717.6 L678.9,717.6 L680.6,728.8 L682.4,733.0 L683.4,733.0 L685.1,726.2 L687.4,728.8 L689.6,718.9 L691.3,718.5 L692.3,718.5 L693.1,728.5 L694.1,728.5 L695.8,719.4 L696.8,719.4 L698.6,730.8 L700.3,733.9 L701.3,733.9 L702.5,708.6 L703.5,708.6 L705.9,715.6 L708.4,731.7 L709.4,731.7 L711.0,729.3 L713.1,717.3 L714.7,715.8 L715.7,715.8 L717.2,718.4 L719.3,716.6 L720.9,719.4 L721.9,719.4 L724.1,723.0 L726.8,718.7 L729.5,723.4 L731.7,722.1 L732.7,722.1 L734.6,725.0 L737.0,732.4 L738.9,734.3 L739.9,734.3 L741.6,729.2 L743.9,729.8 L746.1,723.7 L747.8,723.3 L748.8,723.3 L750.1,731.6 L751.4,734.8 L752.4,734.8 L754.4,729.2 L756.9,730.4 L759.3,719.8 L761.3,718.8 L762.3,718.8 L764.2,731.9 L766.6,730.5 L768.5,742.0 L769.5,742.0 L771.4,741.7 L773.9,722.5 L776.4,724.8 L778.3,715.8 L779.3,715.8 L781.1,719.6 L783.3,735.0 L785.6,727.8 L787.3,742.0 L788.3,742.0 L789.1,730.1 L790.1,730.1 L792.3,738.9 L794.5,743.8 L795.5,743.8 L797.4,738.1 L799.8,738.8 L801.7,732.8 L802.7,732.8 L804.3,739.3 L805.3,739.3 L806.6,729.1 L807.9,723.9 L808.9,723.9 L810.7,736.5 L812.4,742.9 L813.4,742.9 L815.6,737.6 L817.8,735.5 L818.8,735.5 L820.7,740.2 L823.1,739.5 L825.0,744.7 L826.0,744.7 L826.8,740.0 L827.8,740.0 L829.1,752.4 L830.4,759.0 L831.4,759.0 L833.1,746.3 L834.8,740.0 L835.8,740.0 L837.1,751.6 L838.4,755.4 L839.4,755.4 L841.3,749.3 L843.6,751.5 L845.9,737.9 L848.3,742.0 L850.1,734.6 L851.1,734.6 L853.0,736.3 L855.4,743.3 L857.3,743.8 L858.3,743.8 L859.6,737.3 L860.8,733.7 L861.8,733.7 L862.6,759.0 L863.6,759.0 L865.7,757.2 L868.2,743.8 L870.7,749.5 L873.2,735.1 L875.2,732.8 L876.2,732.8 L876.3,750.0 L876.9,736.5 L877.5,750.0 L878.1,737.8 L878.7,735.1 L880.5,738.4 L882.3,738.5 L884.7,732.5 L887.0,729.7 L889.1,713.5 L891.1,714.5 L893.1,709.0 L895.1,709.5 L897.8,700.0 L900.2,702.0 L902.6,698.6 L904.6,675.7 L906.6,667.6 L908.6,665.9 L910.7,668.3 L912.7,666.2 L914.1,648.6 L916.8,635.1 L918.8,618.9 L920.8,609.5 L923.2,603.8 L925.5,602.7 L927.6,586.5 L929.6,584.1 L931.6,575.7 L933.6,568.3 L935.7,564.9 L938.4,560.2 L941.1,552.0 L943.8,555.3 L946.5,560.8 L949.9,566.2 L952.6,586.5 L955.9,597.3 L958.0,590.8 L960.0,575.7 L962.7,598.6 L964.7,588.4 L966.8,582.4 L969.5,582.3 L972.2,577.0 L974.9,564.9 L977.2,558.2 L979.6,556.8 L983.0,544.6 L985.7,532.4 L987.7,517.6 L990.4,500.0 L991.0,500.0 L993.1,476.8 L995.4,456.5 L996.8,436.2 L998.5,420.0 L1000.5,406.5 L1002.2,391.6 L1006.2,383.5 L1008.0,368.6 L1009.1,360.1 L1009.9,339.9 L1010.9,323.0 L1013.1,311.5 L1016.7,300.8 L1017.7,282.4 L1018.9,263.6 L1022.0,263.6 L1027.1,260.8 L1030.0,240.7 L1032.9,260.8 L1036.5,260.9 L1041.6,271.8 L1043.4,285.8 L1045.7,299.3 L1047.4,309.5 L1050.8,325.0 L1054.3,311.6 L1058.4,348.5 L1060.3,312.2 L1064.3,333.1 L1067.7,335.8 L1069.4,307.6 L1076.1,288.6 L1079.2,275.8 L1084.6,271.6 L1086.6,285.8 L1088.3,303.4 L1090.7,308.2 L1093.0,319.6 L1095.1,339.9 L1096.4,360.1 L1097.2,368.6 L1099.9,379.5 L1100.5,395.7 L1101.2,407.8 L1104.6,413.2 L1105.2,429.5 L1105.9,447.0 L1107.3,463.2 L1109.3,476.8 L1112.0,490.3 L1114.1,500.0 L1114.7,505.2 L1116.2,517.0 L1119.5,528.8 L1120.4,538.9 L1122.2,544.3 L1124.1,547.3 L1127.4,552.3 L1129.1,573.2 L1130.1,573.2 L1131.7,563.6 L1133.3,558.3 L1134.3,558.3 L1137.2,560.7 L1139.3,568.3 L1140.9,570.7 L1141.9,570.7 L1144.2,563.4 L1145.2,563.4 L1147.7,564.0 L1150.6,569.1 L1152.7,585.0 L1154.3,590.0 L1155.3,590.0 L1157.4,579.6 L1159.4,574.3 L1160.4,574.3 L1163.2,587.6 L1164.1,611.2 L1166.3,611.5 L1168.6,608.1 L1170.3,608.8 L1171.3,608.8 L1173.3,619.6 L1175.4,637.9 L1176.4,637.9 L1178.0,636.7 L1180.1,624.5 L1181.7,621.4 L1182.7,621.4 L1183.8,646.3 L1184.8,646.3 L1186.4,643.1 L1188.0,636.5 L1189.0,636.5 L1191.4,638.0 L1194.3,643.1 L1196.5,648.2 L1198.1,649.7 L1199.1,649.7 L1201.3,643.5 L1203.6,640.7 L1204.6,640.7 L1206.0,649.7 L1207.3,652.2 L1208.3,652.2 L1209.9,646.1 L1211.5,642.4 L1212.5,642.4 L1214.1,648.8 L1216.2,653.2 L1218.3,651.2 L1219.9,655.0 L1220.9,655.0 L1221.6,680.0 L1222.6,680.0 L1225.0,675.7 L1227.5,660.9 L1228.5,660.9 L1230.1,661.6 L1231.7,668.2 L1232.7,668.2 L1234.3,663.6 L1235.9,653.7 L1236.9,653.7 L1238.9,679.1 L1239.9,679.1 L1241.5,672.5 L1243.6,675.1 L1245.1,668.5 L1246.1,668.5 L1247.7,672.1 L1249.8,678.4 L1251.9,695.1 L1252.9,695.1 L1255.2,681.1 L1256.2,681.1 L1257.8,685.9 L1259.4,685.9 L1260.4,685.9 L1263.3,681.0 L1265.8,678.1 L1268.3,682.8 L1270.4,680.2 L1271.4,680.2 L1273.8,687.0 L1276.2,702.7 L1277.2,702.7 L1279.3,702.2 L1281.3,698.7 L1282.3,698.7 L1283.9,697.1 L1286.0,698.6 L1288.9,714.4 L1289.9,714.4 L1291.5,709.4 L1293.1,700.4 L1294.1,700.4 L1295.9,711.6 L1297.8,728.7 L1298.8,728.7 L1300.1,721.1 L1301.5,702.1 L1302.5,702.1 L1304.5,704.7 L1306.5,710.2 L1307.5,710.2 L1309.9,705.5 L1310.9,705.5 L1312.4,717.0 L1313.4,717.0 L1315.8,717.6 L1318.3,713.0 L1319.3,713.0 L1320.9,714.1 L1323.0,717.1 L1324.2,727.1 L1325.2,727.1 L1326.8,728.3 L1328.4,724.0 L1329.4,724.0 L1331.1,724.9 L1333.4,733.4 L1335.1,733.8 L1336.1,733.8 L1338.5,724.8 L1341.0,722.3 L1342.0,722.3 L1343.6,730.6 L1345.2,732.9 L1346.2,732.9 L1347.8,726.1 L1349.9,726.9 L1352.0,718.1 L1353.6,718.1 L1354.6,718.1 L1356.1,752.3 L1357.1,752.3 L1358.7,743.5 L1360.8,728.9 L1363.1,726.8 L1365.3,730.1 L1367.1,727.3 L1368.1,727.3 L1369.9,736.3 L1371.8,757.3 L1372.8,757.3 L1374.1,750.4 L1375.5,735.7 L1376.5,735.7 L1378.1,733.8 L1380.3,727.2 L1382.6,730.4 L1384.8,722.6 L1386.5,721.5 L1387.5,721.5 L1388.8,729.4 L1390.6,733.8 L1392.7,738.4 L1394.3,754.0 L1395.3,754.0 L1397.0,750.8 L1399.2,733.3 L1400.9,731.6 L1401.9,731.6 L1403.8,733.2 L1406.2,730.3 L1408.1,731.6 L1409.1,731.6 L1410.4,746.4 L1411.7,752.7 L1412.7,752.7 L1414.2,732.1 L1415.8,725.7 L1416.8,725.7 L1418.3,744.3 L1419.7,755.4 L1420.7,755.4 L1422.9,745.3 L1425.6,751.1 L1428.3,735.5 L1430.5,735.5 L1431.5,735.5 L1433.2,742.0 L1434.2,742.0 L1435.9,741.8 L1437.7,736.4 L1438.7,736.4 L1440.0,736.5 L1441.2,738.4 L1442.2,738.4 L1444.4,735.8 L1446.6,728.7 L1447.6,728.7 L1449.4,727.4 L1451.6,731.4 L1453.9,729.7 L1456.1,732.0 L1458.5,735.3 L1460.9,733.6 L1463.3,737.4 L1465.7,748.5 L1468.1,747.7 L1469.9,759.0 L1470.9,759.0 L1472.2,749.0 L1473.5,718.5 L1474.5,718.5 L1476.4,720.3 L1478.8,724.9 L1481.2,726.6 L1483.9,723.5 L1486.1,722.6 L1487.1,722.6 L1488.8,735.7 L1489.8,735.7 L1491.7,734.1 L1494.2,728.5 L1496.7,730.3 L1498.6,723.9 L1499.6,723.9 L1501.4,723.9 L1503.6,733.8 L1505.9,732.9 L1507.6,740.2 L1508.6,740.2 L1510.4,736.3 L1512.7,722.3 L1514.4,718.5 L1515.4,718.5 L1516.7,734.1 L1518.0,742.0 L1519.0,742.0 L1521.4,721.4 L1523.8,713.6 L1524.8,713.6 L1527.0,725.9 L1529.6,722.5 L1532.3,737.0 L1534.5,740.2 L1535.5,740.2 L1537.3,731.5 L1539.6,730.5 L1541.3,722.6 L1542.3,722.6 L1544.2,722.6 L1546.6,735.6 L1549.0,731.3 L1551.5,741.0 L1553.4,742.9 L1554.4,742.9 L1556.1,733.2 L1557.8,727.4 L1558.8,727.4 L1560.6,739.9 L1562.3,746.1 L1563.3,746.1 L1564.9,738.8 L1567.0,740.6 L1568.6,732.8 L1569.6,732.8 L1571.3,740.2 L1573.1,755.1 L1574.1,755.1 L1575.8,755.1 L1578.1,738.5 L1580.3,741.9 L1582.6,732.0 L1584.8,721.2 L1586.5,715.8 L1587.5,715.8 L1589.9,740.8 L1592.3,751.8 L1593.3,751.8 L1594.8,734.8 L1596.4,728.7 L1597.4,728.7 L1599.6,738.9 L1601.8,743.8 L1602.8,743.8 L1604.5,735.7 L1606.3,732.8 L1607.3,732.8 L1609.0,735.8 L1611.3,733.7 L1613.5,738.1 L1615.7,737.4 L1618.4,743.1 L1620.6,759.0 L1621.6,759.0 L1623.4,755.9 L1625.6,744.3 L1627.8,746.6 L1629.6,737.3 L1630.6,737.3 L1631.9,741.4 L1633.2,755.4 L1634.2,755.4 L1636.4,752.2 L1638.6,740.5 L1639.6,740.5 L1641.8,752.7 L1642.8,752.7 L1644.5,746.1 L1646.7,747.6 L1648.4,739.5 L1649.4,739.5 L1651.0,739.1 L1653.1,744.4 L1654.7,744.7 L1655.7,744.7 L1657.9,739.5 L1658.9,739.5 L1660.1,755.4 L1661.1,755.4 L1662.4,751.7 L1664.2,751.7 L1666.0,756.5 L1667.3,759.0 L1668.3,759.0 L1670.1,750.9 L1672.5,753.0 L1674.4,745.4 L1675.4,745.4 L1677.6,745.8 L1680.3,751.7 L1683.0,756.2 L1685.2,755.4 L1686.2,755.4 L1687.9,737.3 L1688.9,737.3 L1690.1,737.9 L1691.1,737.9 L1692.7,740.3 L1694.2,747.3 L1695.2,747.3 L1696.8,748.1 L1698.8,742.3 L1700.4,742.9 L1701.4,742.9 L1703.5,753.0 L1705.6,759.3 L1706.6,759.3 L1708.9,746.9 L1711.8,741.9 L1713.9,742.5 L1715.4,741.3 L1716.4,741.3 L1718.0,743.4 L1719.5,748.0 L1720.5,748.0 L1722.9,738.6 L1723.9,738.6 L1724.0,747.4" stroke="#008000"/>
</g>
<g stroke="#00f" stroke-width="5.4" fill="none" stroke-linecap="round" stroke-dasharray="4 18.62">
<path d="M941.1,517.6 V1180"/>
<path d="M1029.3,226.1 V911"/>
<path d="M1082.6,253.1 V870"/>
</g>
<g stroke="#00f" stroke-width="4" fill="#00f" stroke-linecap="round">
<path d="M998.2,127 L1016,190" fill="none"/>
<path d="M1005.1,189.3 L1025,184.1 L1027,225.5 Z" stroke-width="1"/>
<path d="M1143,175.5 L1110,219" fill="none"/>
<path d="M1103.4,212.1 L1118.9,224 L1088,250.6 Z" stroke-width="1"/>
</g>
<g font-family="'Liberation Sans', Arial, Helvetica, sans-serif" stroke-linejoin="round" id="txt" style="font-kerning:none">
<text id="tk0" transform="translate(413.8,1959.0) scale(1,1.03)" font-size="73.6" text-anchor="middle" fill="#000" stroke="#000" stroke-width="1.1">3400</text>
<text id="tk1" transform="translate(704.8,1959.0) scale(1,1.03)" font-size="73.6" text-anchor="middle" fill="#000" stroke="#000" stroke-width="1.1">3200</text>
<text id="tk2" transform="translate(995.8,1959.0) scale(1,1.03)" font-size="73.6" text-anchor="middle" fill="#000" stroke="#000" stroke-width="1.1">3000</text>
<text id="tk3" transform="translate(1286.8,1959.0) scale(1,1.03)" font-size="73.6" text-anchor="middle" fill="#000" stroke="#000" stroke-width="1.1">2800</text>
<text id="tk4" transform="translate(1577.8,1959.0) scale(1,1.03)" font-size="73.6" text-anchor="middle" fill="#000" stroke="#000" stroke-width="1.1">2600</text>
<text id="xt" transform="translate(687.0,2050.3)" font-size="80.5" fill="#000" stroke="#000" stroke-width="1.1">Wavenumber (cm<tspan font-size="50" dy="-42.3">-1</tspan><tspan dy="42.3" dx="0">)</tspan></text>
<text id="yt" transform="translate(90.5,1391.6) rotate(-90)" font-size="80.75" fill="#000" stroke="#000" stroke-width="1.1">Raman Intensity (n.u.)</text>
<text id="ch" transform="translate(706.0,410.0) scale(1,1.025)" font-size="58" fill="#00f" stroke="#00f" stroke-width="1.0">C-H</text>
<text id="chs" transform="translate(809.2,432.3)" font-size="34.2" fill="#00f" stroke="#00f" stroke-width="1.0">stretching</text>
<text id="n3039" transform="translate(821.4,494.9) scale(1,1.01)" font-size="60" fill="#00f" stroke="#00f" stroke-width="1.0">3039</text>
<text id="n2976" transform="translate(934.0,116.2) scale(1,1.03)" font-size="60" fill="#00f" stroke="#00f" stroke-width="1.0">2976</text>
<text id="ch2" transform="translate(1102.5,72.8) scale(1,1.02)" font-size="58" fill="#00f" stroke="#00f" stroke-width="1.0">CH2</text>
<text id="ch2s" transform="translate(1216.5,95.3)" font-size="34" fill="#00f" stroke="#00f" stroke-width="1.0">stretching</text>
<text id="n2941" transform="translate(1119.0,158.2) scale(1,1.02)" font-size="60" fill="#00f" stroke="#00f" stroke-width="1.0">2941</text>
<text id="lb" transform="translate(1678.4,1207.7) scale(1,0.97)" font-size="95" fill="#00f" stroke="#00f" stroke-width="1.0">b</text>
<text id="lc" transform="translate(1675.3,670.2) scale(1,0.96)" font-size="96" fill="#008000" stroke="#008000" stroke-width="1.0">c</text>
<text id="la" transform="translate(1687.4,1599.8) scale(1,0.96)" font-size="96" fill="#000" stroke="#000" stroke-width="1.0">a</text>
</g>
</svg>
</body></html>
